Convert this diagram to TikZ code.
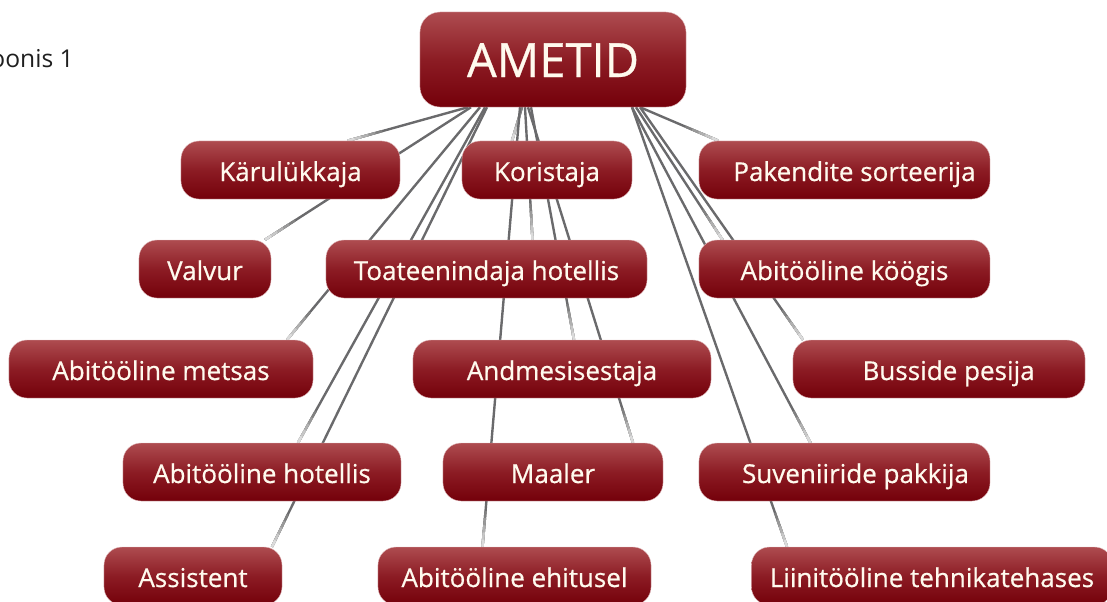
\documentclass[tikz,border=0pt]{standalone}
\usepackage{fontspec}
\setmainfont{Open Sans}
\newfontfamily\jobfont{Open Sans}[FakeBold=0.6]
\usepackage{tikz}
\usetikzlibrary{calc,backgrounds}
\definecolor{jobtop}{RGB}{174,76,80}
\definecolor{jobmid}{RGB}{140,28,36}
\definecolor{jobbot}{RGB}{116,0,10}
\definecolor{jobtext}{RGB}{255,250,238}
\definecolor{linkgray}{RGB}{106,106,108}
\tikzstyle{jobbox} = [rectangle, rounded corners=0.45cm, minimum height=1.45cm, inner sep=0pt, top color=jobtop, bottom color=jobbot, middle color=jobmid, draw=jobtop!35!white, line width=0.3pt, text=jobtext, text height=0.6cm, text depth=0.05cm, font=\jobfont\fontsize{18.5}{20}\selectfont]
\tikzstyle{link} = [line width=1.7pt, draw=linkgray]
% line from AMETID to a job, fading out at its end
\newcommand{\joblink}[3]{%
  \coordinate (la) at ($(ametid.south)+(#2,0)$);
  \coordinate (lb) at ($(#1.north)+(#3,0)$);
  \draw[link] (la) -- (lb);
  \foreach \d/\c in {0.9cm/50,0.72cm/40,0.54cm/31,0.36cm/22,0.18cm/14}
    \draw[link, draw=black!\c] ($(lb)!\d!(la)$) -- (lb);
}

\begin{document}
\begin{tikzpicture}[x=0.025cm, y=-0.025cm]
\useasboundingbox (0,0) rectangle (1107,601);

% caption
\node[anchor=base east, text=black!88, font=\fontsize{17.5}{20}\selectfont, inner sep=0pt] (caption) at (74,67) {Joonis 1};

% AMETID
\node[jobbox, rounded corners=0.5cm, minimum width=6.65cm, minimum height=2.375cm, text height=0.9cm, text depth=0.025cm, font=\jobfont\fontsize{33.5}{36}\selectfont] (ametid) at (553,59.5) {AMETID};

% row 1
\node[jobbox, minimum width=5.475cm] (kar) at (290.5,170) {Kärulükkaja};
\node[jobbox, minimum width=4.25cm] (koristaja) at (547,170) {Koristaja};
\node[jobbox, minimum width=7.275cm] (pakendite) at (844.5,170) {\hspace*{0.5cm}Pakendite sorteerija};

% row 2
\node[jobbox, minimum width=3.3cm] (valvur) at (205,269) {Valvur};
\node[jobbox, minimum width=8.025cm] (toa) at (486.5,269) {Toateenindaja hotellis};
\node[jobbox, minimum width=7.275cm] (kookis) at (844.5,269) {Abitööline köögis};

% row 3
\node[jobbox, minimum width=7.6cm] (metsas) at (161,369) {Abitööline metsas};
\node[jobbox, minimum width=7.45cm] (andmes) at (562,369) {Andmesisestaja};
\node[jobbox, minimum width=7.3cm] (busside) at (939,369) {\hspace*{0.48cm}Busside pesija};

% row 4
\node[jobbox, minimum width=6.95cm] (hotellis) at (262,472) {Abitööline hotellis};
\node[jobbox, minimum width=5.5cm] (maaler) at (553,472) {Maaler};
\node[jobbox, minimum width=7.275cm] (suven) at (844.5,472) {\hspace*{0.55cm}Suveniiride pakkija};

% row 5
\node[jobbox, minimum width=4.45cm] (assistent) at (193,576) {Assistent};
\node[jobbox, minimum width=6.825cm] (ehitusel) at (514.5,576) {Abitööline ehitusel};
\node[jobbox, minimum width=9.025cm] (liini) at (932,576) {Liinitööline tehnikatehases};

% connectors behind the boxes
\begin{scope}[on background layer]
\joblink{kar}{-85}{57}
\joblink{valvur}{-82}{60}
\joblink{metsas}{-73}{126}
\joblink{hotellis}{-68}{36}
\joblink{assistent}{-66}{79}
\joblink{koristaja}{-31}{-35}
\joblink{toa}{-28}{46}
\joblink{ehitusel}{-33}{-32}
\joblink{andmes}{-22}{12}
\joblink{maaler}{-25}{80}
\joblink{pakendite}{87}{-126}
\joblink{kookis}{83}{-122}
\joblink{busside}{87}{-136}
\joblink{suven}{79}{-34}
\joblink{liini}{79}{-145}
\end{scope}
\end{tikzpicture}
\end{document}
